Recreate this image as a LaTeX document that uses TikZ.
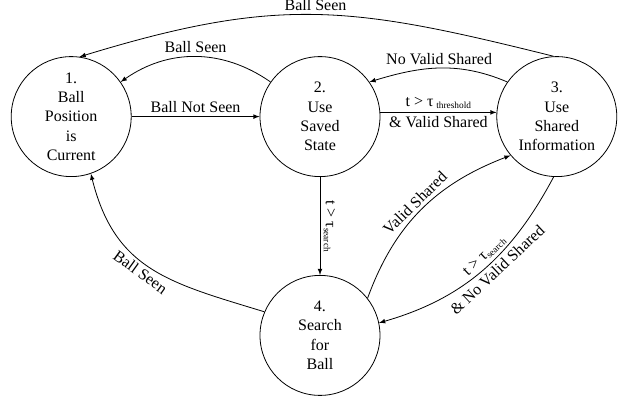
\documentclass[tikz,border=0pt]{standalone}
\usepackage{fontspec}
\setmainfont{Liberation Serif}
\usepackage{tikz}
\usetikzlibrary{matrix, arrows}

\newcommand{\tsub}[1]{\raisebox{-1.5pt}{\fontsize{7}{8}\selectfont #1}}

\begin{document}
\begin{tikzpicture}[x=0.75pt, y=0.75pt, >=latex, line width=0.6pt,
  font=\fontsize{12}{14.5}\selectfont,
  st/.style={draw, circle, minimum size=90pt, inner sep=0pt, align=center},
  lbl/.style={inner sep=2.5pt}]
\useasboundingbox (-314,-173) rectangle (304,226);
\matrix (m) [column sep = 87pt, row sep = 73.5pt]{
\node[st](s1){1.\\Ball\\Position\\is\\Current}; &[9pt] \node[st](s2){2.\\Use\\Saved\\State}; & \node[st](s3){3.\\Use\\Shared\\Information}; \\
& \node[st](s4){4.\\Search\\for\\Ball}; & \\
};
\draw[->] (s1) -- node[lbl, above]{Ball Not Seen} (s2);
\draw[->] (s2.4) -- node[lbl, above]{t > τ\,\tsub{threshold}} node[lbl, below]{\& Valid Shared} (s3.176);
\draw[->] (s2) to[bend right=35] node[lbl, above]{Ball Seen} (s1);
\draw[->] (s3.145) to[out=157, in=17] node[lbl, above]{No Valid Shared} (s2.35);
\draw[->] (s3.93) to[out=166, in=17, looseness=1.13] node[lbl, above]{Ball Seen} (s1.82);
\draw[->] (s2) -- node[lbl, midway, anchor=south, rotate=-90]{t > τ\tsub{search}} (s4);
\draw[->] (s4.38) to[out=70, in=201] node[lbl, sloped, above]{Valid Shared} (s3.220);
\draw[->] (s3.267) to[out=242, in=16] node[lbl, pos=0.45, sloped, above]{t > τ\tsub{search}} node[lbl, pos=0.45, sloped, below]{\& No Valid Shared} (s4.12);
\draw[->] (s4.157) to[out=163, in=-76, looseness=1.15] node[lbl, pos=0.53, sloped, below]{Ball Seen} (s1.289);
\end{tikzpicture}
\end{document}
